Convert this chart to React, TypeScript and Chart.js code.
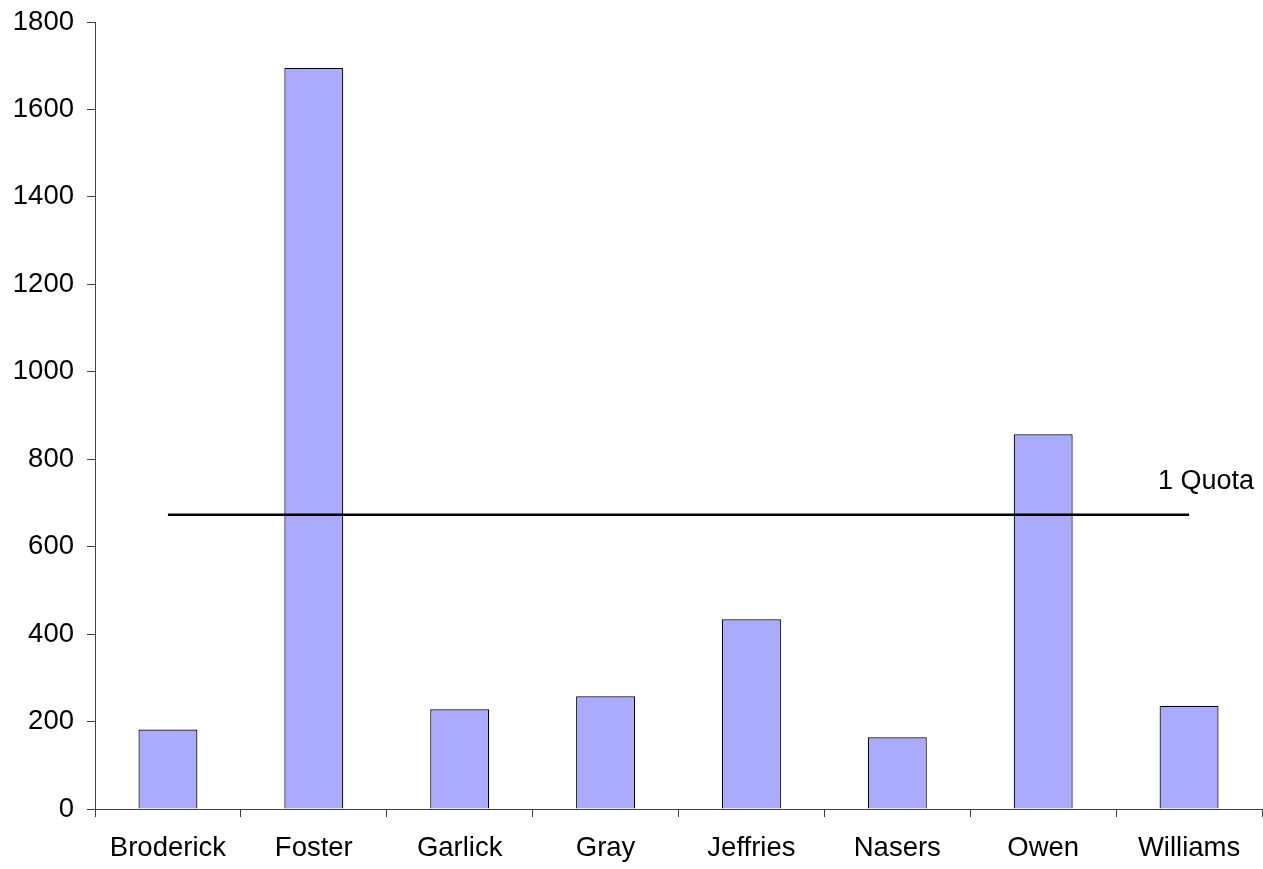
import React, { useEffect, useRef } from "react";
import { Chart, registerables } from "chart.js";

Chart.register(...registerables);

const categories = ["Broderick", "Foster", "Garlick", "Gray", "Jeffries", "Nasers", "Owen", "Williams"];
const votes = [182, 1695, 228, 258, 434, 164, 857, 236];
const quotaValue = 673;
const quotaLine = categories.map(() => quotaValue);
const quotaLabel = "1 Quota";
const yTickMin = 0;
const yTickMax = 1800;
const yTickStep = 200;

const FONT = "'Liberation Sans', Arial, sans-serif";

const quotaLabelPlugin = {
  id: "quotaLabel",
  afterDatasetsDraw(chart: any) {
    const { ctx, scales } = chart;
    const x = scales.x.getPixelForValue(categories.length - 1) - 31;
    const y = scales.y.getPixelForValue(quotaValue) - 26;
    ctx.save();
    ctx.font = `27px ${FONT}`;
    ctx.fillStyle = "#000";
    ctx.textAlign = "left";
    ctx.textBaseline = "alphabetic";
    ctx.fillText(quotaLabel, x, y);
    ctx.restore();
  },
};

export default function App() {
  const ref = useRef<HTMLCanvasElement>(null);
  useEffect(() => {
    if (!ref.current) return;
    const chart = new Chart(ref.current, {
      type: "bar",
      data: {
        labels: categories,
        datasets: [
          {
            type: "line",
            label: quotaLabel,
            data: quotaLine,
            borderColor: "#000",
            borderWidth: 2.7,
            pointRadius: 0,
            fill: false,
            order: 0,
          } as any,
          {
            type: "bar",
            label: "Votes",
            data: votes,
            backgroundColor: "#AAAAFF",
            borderColor: "#000000",
            borderWidth: 1.2,
            categoryPercentage: 1,
            barPercentage: 0.404,
            order: 1,
          },
        ],
      },
      options: {
        animation: false,
        responsive: false,
        maintainAspectRatio: false,
        layout: { padding: { top: 22, right: 1, left: 0, bottom: 0 } },
        plugins: { legend: { display: false }, tooltip: { enabled: false } },
        scales: {
          x: {
            offset: true,
            grid: {
              display: true,
              drawOnChartArea: false,
              drawTicks: true,
              tickLength: 8,
              color: "#404040",
              offset: true,
            },
            border: { display: true, color: "#404040", width: 1 },
            ticks: { color: "#000", font: { family: FONT, size: 27.5 }, padding: 15, maxRotation: 0, autoSkip: false },
            afterFit: (s: any) => { s.height = 60; s.paddingLeft = 0; s.paddingRight = 0; },
          },
          y: {
            min: yTickMin,
            max: yTickMax,
            grid: {
              display: true,
              drawOnChartArea: false,
              drawTicks: true,
              tickLength: 8,
              color: "#404040",
            },
            border: { display: true, color: "#404040", width: 1 },
            ticks: {
              stepSize: yTickStep,
              color: "#000",
              font: { family: FONT, size: 27.5 },
              padding: 13,
              callback: (v: any) => String(v),
            },
            afterFit: (s: any) => { s.width = 95; s.paddingTop = 0; s.paddingBottom = 0; },
          },
        },
      },
      plugins: [quotaLabelPlugin],
    });
    return () => chart.destroy();
  }, []);
  return (
    <div style={{ position: "absolute", left: 0, top: 0, width: 1263, height: 869, background: "#fff" }}>
      <canvas ref={ref} width={1263} height={869} style={{ width: 1263, height: 869 }} />
    </div>
  );
}
